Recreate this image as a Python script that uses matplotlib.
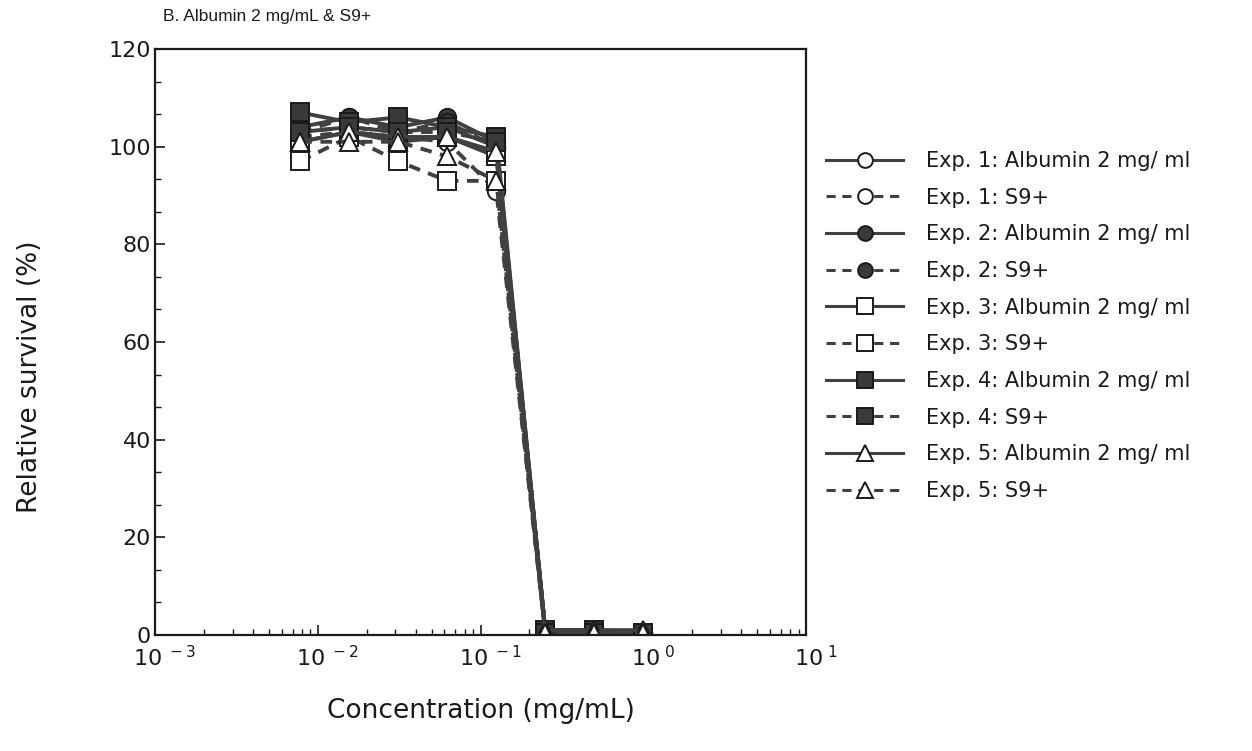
import matplotlib
matplotlib.use("Agg")
import matplotlib.pyplot as plt
import matplotlib.transforms as mtrans
from matplotlib.ticker import LogLocator, NullFormatter, FixedLocator, AutoMinorLocator

plt.rcParams['font.family'] = ['DejaVu Sans']
plt.rcParams['mathtext.fontset'] = 'dejavusans'

conc = [0.0078, 0.0156, 0.03125, 0.0625, 0.125, 0.25, 0.5, 1.0]

exp1_alb = [103, 104, 103, 104, 100, 1.0, 0.5, 0.5]
exp1_s9 = [102, 103, 102, 101, 91, 0.5, 0.5, 0.0]
exp2_alb = [104, 106, 104, 106, 101, 1.0, 1.0, 0.5]
exp2_s9 = [103, 106, 103, 105, 100, 1.0, 0.5, 0.5]
exp3_alb = [101, 103, 101, 102, 98, 0.5, 0.5, 0.0]
exp3_s9 = [97, 102, 97, 93, 93, 0.5, 0.0, 0.0]
exp4_alb = [107, 105, 106, 104, 102, 1.0, 1.0, 0.5]
exp4_s9 = [103, 104, 103, 103, 101, 0.5, 0.5, 0.5]
exp5_alb = [101, 103, 102, 102, 99, 1.0, 1.0, 1.0]
exp5_s9 = [101, 101, 101, 98, 93, 0.5, 0.5, 0.5]

labels = ["Exp. 1: Albumin 2 mg/ ml", "Exp. 1: S9+",
          "Exp. 2: Albumin 2 mg/ ml", "Exp. 2: S9+",
          "Exp. 3: Albumin 2 mg/ ml", "Exp. 3: S9+",
          "Exp. 4: Albumin 2 mg/ ml", "Exp. 4: S9+",
          "Exp. 5: Albumin 2 mg/ ml", "Exp. 5: S9+"]
series = [exp1_alb, exp1_s9, exp2_alb, exp2_s9, exp3_alb, exp3_s9,
          exp4_alb, exp4_s9, exp5_alb, exp5_s9]
xtick_labels = [r'$\mathregular{10^{\ -3}}$', r'$\mathregular{10^{\ -2}}$',
                r'$\mathregular{10^{\ -1}}$', r'$\mathregular{10^{\ 0}}$',
                r'$\mathregular{10^{\ 1}}$']
markers = ['o', 'o', 'o', 'o', 's', 's', 's', 's', '^', '^']
fills = ['white', 'white', '#3a3a3a', '#3a3a3a', 'white', 'white',
         '#3a3a3a', '#3a3a3a', 'white', 'white']
styles = ['-', '--'] * 5

fig = plt.figure(figsize=(12.52, 7.51), dpi=100)
ax = fig.add_axes([155/1252, 1 - 635/751, (806-155)/1252, (635-49)/751])

line_col = '#404040'
for y, m, fc, ls, lab in zip(series, markers, fills, styles, labels):
    ms = 12.5 if m == 'o' else (13.5 if m == '^' else 13)
    ax.plot(conc, y, linestyle=ls, color=line_col, linewidth=2.8,
            dashes=(3, 2.2) if ls == '--' else (None, None),
            marker=m, markersize=ms, markerfacecolor=fc,
            markeredgecolor='#1a1a1a', markeredgewidth=1.4, label=lab)

ax.set_xscale('log')
ax.set_xlim(1e-3, 1e1)
ax.set_ylim(0, 120)
ax.set_yticks([0, 20, 40, 60, 80, 100, 120])
ax.yaxis.set_minor_locator(AutoMinorLocator(3))
ax.xaxis.set_major_locator(FixedLocator([1e-3, 1e-2, 1e-1, 1e0, 1e1]))
ax.xaxis.set_minor_locator(LogLocator(base=10, subs=range(2, 10)))
ax.xaxis.set_minor_formatter(NullFormatter())
ax.set_xticklabels(xtick_labels)
ax.tick_params(axis='both', which='both', direction='in', top=False, right=False,
               labelsize=16, colors='#1a1a1a')
ax.tick_params(axis='both', which='major', length=7, width=1.2, pad=7)
ax.tick_params(axis='both', which='minor', length=4, width=1.0)
ax.tick_params(axis='y', which='major', pad=3)
shift = mtrans.ScaledTranslation(10/100, 0, fig.dpi_scale_trans)
for lbl in ax.get_xticklabels():
    lbl.set_transform(lbl.get_transform() + shift)
for sp in ax.spines.values():
    sp.set_linewidth(1.6)
    sp.set_color('#1a1a1a')

ax.set_ylabel('Relative survival (%)', fontsize=19, color='#1a1a1a')
ax.yaxis.set_label_coords(-0.172, 0.44)
ax.set_xlabel('Concentration (mg/mL)', fontsize=19, color='#1a1a1a')
ax.xaxis.set_label_coords(0.5, -0.108)
ax.set_title('B. Albumin 2 mg/mL & S9+', fontsize=12.5, loc='left', pad=20,
             color='#1a1a1a', family='Liberation Sans', x=0.012)

leg = fig.legend(loc='center left', bbox_to_anchor=(826/1252, 1 - 326/751),
                 frameon=False, fontsize=15, handlelength=3.7, handletextpad=1.1,
                 labelspacing=0.8, borderpad=0, borderaxespad=0, markerscale=0.85)
for t in leg.get_texts():
    t.set_color('#1a1a1a')
for h in leg.legend_handles:
    h.set_linewidth(2.2)

fig.savefig('out.png', dpi=100)
